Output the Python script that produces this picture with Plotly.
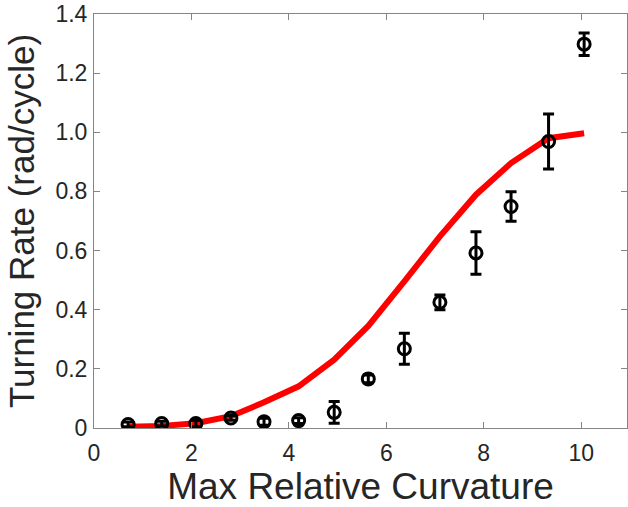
import plotly.graph_objects as go

x_data = [0.70, 1.39, 2.09, 2.81, 3.49, 4.20, 4.93, 5.63, 6.37, 7.10, 7.84, 8.56, 9.33, 10.06]
y_data = [0.012, 0.015, 0.015, 0.034, 0.021, 0.025, 0.053, 0.166, 0.268, 0.425, 0.592, 0.749, 0.969, 1.298]
y_err = [0.008, 0.008, 0.010, 0.008, 0.012, 0.010, 0.037, 0.013, 0.052, 0.025, 0.072, 0.050, 0.093, 0.038]
fit_y = [0.004, 0.007, 0.016, 0.040, 0.087, 0.141, 0.231, 0.345, 0.496, 0.648, 0.789, 0.896, 0.980, 0.997]

x_ticks = [0, 2, 4, 6, 8, 10]
y_ticks = [0, 0.2, 0.4, 0.6, 0.8, 1.0, 1.2, 1.4]
y_tick_labels = ["0", "0.2", "0.4", "0.6", "0.8", "1.0", "1.2", "1.4"]

FONT = "Liberation Sans, Arial"
TXT = "#262626"

fig = go.Figure()
fig.add_trace(go.Scatter(
    x=x_data, y=fit_y, mode="lines",
    line=dict(color="#ff0000", width=6), showlegend=False, hoverinfo="skip"))
fig.add_trace(go.Scatter(
    x=x_data, y=y_data, mode="markers",
    marker=dict(symbol="circle-open", size=12, color="black", line=dict(width=3, color="black")),
    error_y=dict(type="data", array=y_err, visible=True, color="black", thickness=3, width=5.5),
    showlegend=False))

axis_common = dict(
    showline=True, linecolor="#858585", linewidth=1, mirror="ticks",
    ticks="inside", ticklen=6, tickcolor="#858585", showgrid=False, zeroline=False,
    automargin=False, ticklabeloverflow="allow",
    tickfont=dict(family=FONT, size=23, color=TXT),
)

fig.update_layout(
    width=628, height=507,
    margin=dict(l=94, r=1, t=14, b=79),
    paper_bgcolor="white", plot_bgcolor="white",
    xaxis=dict(range=[0, 10.94], tickvals=x_ticks, ticklabelstandoff=4,
               title=dict(text="Max Relative Curvature", standoff=14,
                          font=dict(family=FONT, size=37, color=TXT)),
               **axis_common),
    yaxis=dict(range=[0, 1.4], tickvals=y_ticks, ticktext=y_tick_labels, ticklabelstandoff=1,
               title=dict(text="Turning Rate (rad/cycle)", standoff=10,
                          font=dict(family=FONT, size=35, color=TXT)),
               **axis_common),
)

fig.write_html("out.html", config={"displayModeBar": False},
               post_script="document.body.style.margin='0px';")
